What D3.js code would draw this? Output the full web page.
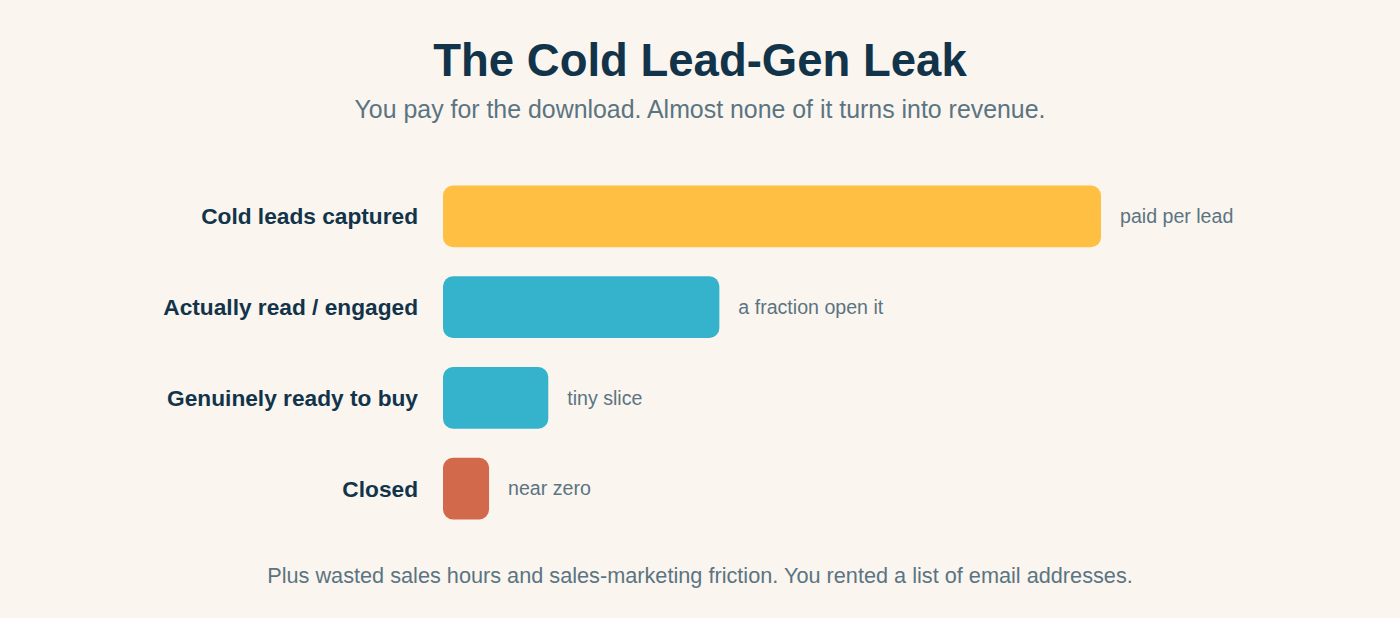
<!DOCTYPE html>
<html>
<head>
<meta charset="utf-8">
<script src="https://cdn.jsdelivr.net/npm/d3@7"></script>
<style>
  html, body { margin: 0; padding: 0; background: #faf5ef; }
  svg { display: block; font-family: "Liberation Sans", Arial, Helvetica, sans-serif; }
</style>
</head>
<body>
<div id="chart"></div>
<script>
const stages = ['Cold leads captured', 'Actually read / engaged', 'Genuinely ready to buy', 'Closed'];
const shares = [100, 42, 16, 7]; // relative volume
const notes = ['paid per lead', 'a fraction open it', 'tiny slice', 'near zero'];
const barColors = ['#ffbf42', '#35b2cc', '#35b2cc', '#d1694a'];

const title = 'The Cold Lead-Gen Leak';
const subtitle = 'You pay for the download. Almost none of it turns into revenue.';
const footer = 'Plus wasted sales hours and sales-marketing friction. You rented a list of email addresses.';

(function(){
    const width = 1400, height = 618;
    const margin = { top: 171, left: 443, right: 299, bottom: 84 };

    const svg = d3.select('#chart')
        .append('svg')
        .attr('width', width)
        .attr('height', height);

    svg.append('rect').attr('width', width).attr('height', height).attr('fill', '#faf5ef');

    svg.append('text')
        .attr('x', width / 2).attr('y', 76)
        .attr('text-anchor', 'middle')
        .attr('fill', '#12344a')
        .style('font-size', '45.5px').style('font-weight', 700)
        .text(title);

    svg.append('text')
        .attr('x', width / 2).attr('y', 118)
        .attr('text-anchor', 'middle')
        .attr('fill', '#5b7482')
        .style('font-size', '24.9px')
        .text(subtitle);

    const x = d3.scaleLinear()
        .domain([0, d3.max(shares)])
        .range([0, width - margin.left - margin.right]);

    const y = d3.scaleBand()
        .domain(stages)
        .range([margin.top, height - margin.bottom])
        .paddingInner(0.32)
        .paddingOuter(0.16);

    const rows = svg.append('g')
        .selectAll('g')
        .data(stages)
        .join('g')
        .attr('transform', d => 'translate(' + margin.left + ',' + y(d) + ')');

    rows.append('rect')
        .attr('width', (d, i) => x(shares[i]))
        .attr('height', y.bandwidth())
        .attr('rx', 10).attr('ry', 10)
        .attr('fill', (d, i) => barColors[i]);

    rows.append('text')
        .attr('x', -25)
        .attr('y', y.bandwidth() / 2)
        .attr('dy', '0.35em')
        .attr('text-anchor', 'end')
        .attr('fill', '#12344a')
        .style('font-size', '22.7px').style('font-weight', 700)
        .text(d => d);

    rows.append('text')
        .attr('x', (d, i) => x(shares[i]) + 19)
        .attr('y', y.bandwidth() / 2)
        .attr('dy', '0.35em')
        .attr('fill', '#5b7482')
        .style('font-size', '19.6px')
        .text((d, i) => notes[i]);

    svg.append('text')
        .attr('x', width / 2).attr('y', 583)
        .attr('text-anchor', 'middle')
        .attr('fill', '#5b7482')
        .style('font-size', '21.7px')
        .text(footer);
}());
</script>
</body>
</html>
